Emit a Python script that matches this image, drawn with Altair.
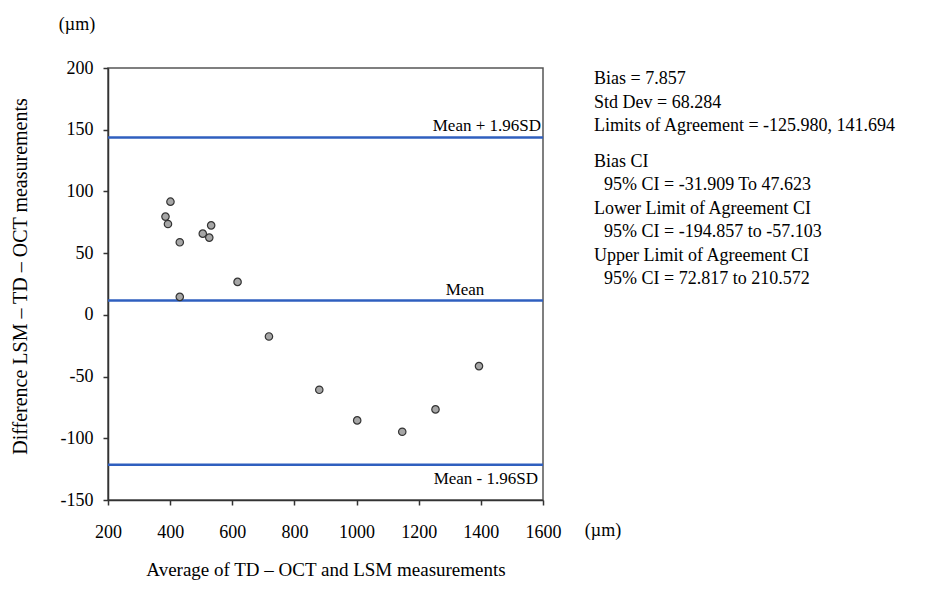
import altair as alt
import pandas as pd

# ---- data ----
avg_um = [401, 385, 393, 431, 505, 532, 526, 617, 431, 718, 880, 1002, 1147, 1254, 1394]
diff_um = [91.7, 79.6, 73.6, 58.8, 65.8, 72.5, 62.6, 26.7, 14.6, -17.5, -60.7, -85.5, -94.7, -76.6, -41.5]

line_names = ["Mean + 1.96SD", "Mean", "Mean - 1.96SD"]
line_values = [143.7, 11.6, -121.4]

x_ticks = [200, 400, 600, 800, 1000, 1200, 1400, 1600]
y_ticks = [-150, -100, -50, 0, 50, 100, 150, 200]

stats_lines = [
    "Bias = 7.857",
    "Std Dev = 68.284",
    "Limits of Agreement = -125.980, 141.694",
    "Bias CI",
    "95% CI = -31.909 To 47.623",
    "Lower Limit of Agreement CI",
    "95% CI = -194.857 to -57.103",
    "Upper Limit of Agreement CI",
    "95% CI = 72.817 to 210.572",
]
stats_indented = [False, False, False, False, True, False, True, False, True]

unit_label = "(µm)"
x_title = "Average of TD – OCT and LSM measurements"
y_title = "Difference LSM – TD – OCT measurements"

# ---- layout ----
W, H = 435, 432
FONT = "Liberation Serif"
BLUE = "#2f5fbf"

pts = pd.DataFrame({"avg": avg_um, "diff": diff_um})
lines = pd.DataFrame({"name": line_names, "value": line_values})

xscale = alt.Scale(domain=[x_ticks[0], x_ticks[-1]], nice=False, zero=False)
yscale = alt.Scale(domain=[y_ticks[0], y_ticks[-1]], nice=False, zero=False)

base_x = alt.X("avg:Q", scale=xscale, axis=alt.Axis(
    values=x_ticks, labelExpr="'' + datum.value", labelFlush=False, labelOverlap=False,
    title=x_title, titleFontSize=19, titleX=W / 2, titleY=69, titleBaseline="middle",
    labelPadding=18))
base_y = alt.Y("diff:Q", scale=yscale, axis=alt.Axis(
    values=y_ticks, labelExpr="'' + datum.value", labelFlush=False, labelOverlap=False,
    title=y_title, titleFontSize=20, titleX=-88, titleY=208, titleBaseline="middle",
    labelPadding=10))

points = alt.Chart(pts).mark_point(
    shape="circle", filled=True, fill="#a6a6a6", stroke="#333333", strokeWidth=1.2, size=55, opacity=1
).encode(x=base_x, y=base_y)

rules = alt.Chart(lines).mark_rule(color=BLUE, strokeWidth=2.5).encode(
    y=alt.Y("value:Q", scale=yscale)
)

lab_style = dict(font=FONT, fontSize=17, color="black")
lab_upper = alt.Chart(lines[lines.name == line_names[0]]).mark_text(
    align="right", baseline="bottom", dy=-2, **lab_style
).encode(y=alt.Y("value:Q", scale=yscale), x=alt.value(W - 2), text="name:N")
lab_mean = alt.Chart(lines[lines.name == line_names[1]]).mark_text(
    align="center", baseline="bottom", dy=-2, **lab_style
).encode(y=alt.Y("value:Q", scale=yscale), x=alt.value(357), text="name:N")
lab_lower = alt.Chart(lines[lines.name == line_names[2]]).mark_text(
    align="right", baseline="top", dy=6, **lab_style
).encode(y=alt.Y("value:Q", scale=yscale), x=alt.value(W - 5), text="name:N")

layers = [rules, points, lab_upper, lab_mean, lab_lower]

# stats block on the right
y0 = 11
step = 23.5
for i, (txt, ind) in enumerate(zip(stats_lines, stats_indented)):
    yy = y0 + i * step + (12 if i >= 3 else 0)
    xx = 486 + (10 if ind else 0)
    layers.append(
        alt.Chart(pd.DataFrame({"t": [txt]})).mark_text(
            align="left", baseline="middle", font=FONT, fontSize=18, color="black"
        ).encode(x=alt.value(xx), y=alt.value(yy), text="t:N")
    )

# unit labels
layers.append(
    alt.Chart(pd.DataFrame({"t": [unit_label]})).mark_text(
        align="center", baseline="middle", font=FONT, fontSize=18, color="black"
    ).encode(x=alt.value(-31), y=alt.value(-43), text="t:N")
)
layers.append(
    alt.Chart(pd.DataFrame({"t": [unit_label]})).mark_text(
        align="center", baseline="middle", font=FONT, fontSize=18, color="black"
    ).encode(x=alt.value(495), y=alt.value(463), text="t:N")
)

chart = alt.layer(*layers).properties(
    width=W, height=H,
    background="white",
    autosize=alt.AutoSizeParams(type="none"),
    padding={"left": 100, "top": 60, "right": 380, "bottom": 80},
).configure_view(
    stroke="#555555", strokeWidth=1.5
).configure_axis(
    grid=False, domainColor="#333333", domainWidth=1.5, tickColor="#333333", tickWidth=1.5, tickSize=5,
    labelFont=FONT, labelFontSize=18, labelColor="black",
    titleFont=FONT, titleFontSize=18, titleFontWeight="normal", titleColor="black",
)

chart.save("out.html", embed_options={"renderer": "svg", "actions": False})
